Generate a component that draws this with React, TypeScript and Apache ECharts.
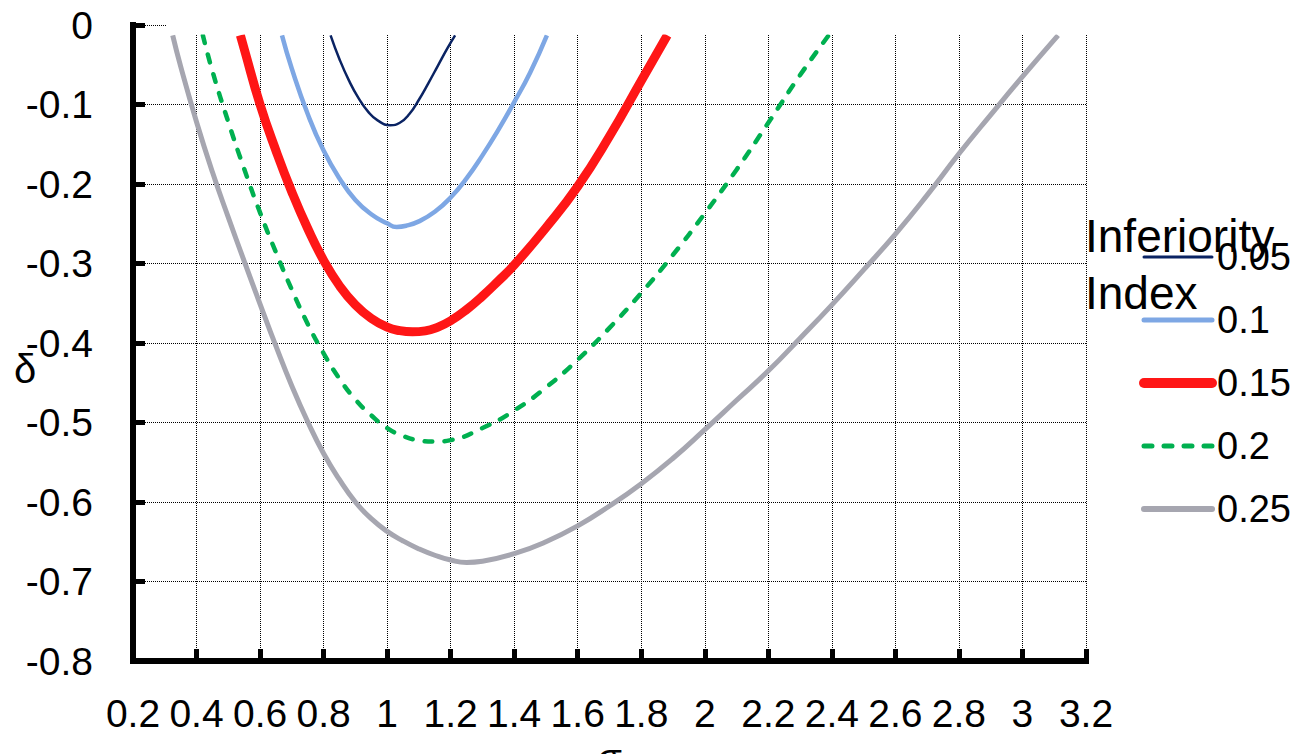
import React, { useEffect, useRef } from "react";
import * as echarts from "echarts";

const FONT = '"Liberation Sans", Arial, sans-serif';

const seriesNames = ["0.05", "0.1", "0.15", "0.2", "0.25"];
const seriesColors = ["#0A2363", "#7EA7E4", "#FF1616", "#00B050", "#A6A6B0"];

const sigma005 = [0.822, 0.85, 0.88, 0.91, 0.94, 0.97, 1.01, 1.04, 1.07, 1.1, 1.13, 1.16, 1.19, 1.214];
const delta005 = [-0.013, -0.043, -0.07, -0.092, -0.109, -0.12, -0.126, -0.123, -0.112, -0.094, -0.073, -0.051, -0.029, -0.013];

const sigma010 = [0.669, 0.7, 0.75, 0.8, 0.85, 0.9, 0.95, 1.0, 1.03, 1.06, 1.1, 1.15, 1.2, 1.25, 1.3, 1.35, 1.4, 1.45, 1.503];
const delta010 = [-0.013, -0.055, -0.112, -0.158, -0.193, -0.22, -0.238, -0.2495, -0.254, -0.2525, -0.247, -0.235, -0.217, -0.193, -0.164, -0.132, -0.097, -0.06, -0.013];

const sigma015 = [0.538, 0.55, 0.6, 0.65, 0.7, 0.75, 0.8, 0.85, 0.9, 0.95, 1.0, 1.04, 1.08, 1.12, 1.16, 1.2, 1.25, 1.3, 1.35, 1.4, 1.5, 1.6, 1.7, 1.8, 1.882];
const delta015 = [-0.013, -0.03, -0.1, -0.158, -0.21, -0.256, -0.296, -0.328, -0.352, -0.369, -0.38, -0.3845, -0.386, -0.3848, -0.38, -0.372, -0.358, -0.341, -0.322, -0.302, -0.255, -0.203, -0.14, -0.07, -0.013];

const sigma020 = [0.42, 0.45, 0.5, 0.55, 0.6, 0.65, 0.7, 0.75, 0.8, 0.85, 0.9, 0.95, 1.0, 1.05, 1.1, 1.15, 1.2, 1.3, 1.4, 1.5, 1.6, 1.7, 1.8, 1.9, 2.0, 2.1, 2.2, 2.3, 2.39];
const delta020 = [-0.013, -0.058, -0.122, -0.181, -0.236, -0.286, -0.333, -0.376, -0.413, -0.445, -0.471, -0.491, -0.507, -0.517, -0.5225, -0.524, -0.5222, -0.507, -0.485, -0.456, -0.421, -0.381, -0.337, -0.289, -0.237, -0.182, -0.123, -0.063, -0.013];

const sigma025 = [0.325, 0.35, 0.4, 0.45, 0.5, 0.55, 0.6, 0.65, 0.7, 0.75, 0.8, 0.85, 0.9, 0.95, 1.0, 1.05, 1.1, 1.15, 1.2, 1.25, 1.3, 1.4, 1.5, 1.6, 1.7, 1.8, 1.9, 2.0, 2.1, 2.2, 2.3, 2.4, 2.5, 2.6, 2.7, 2.8, 2.9, 3.0, 3.112];
const delta025 = [-0.013, -0.052, -0.122, -0.185, -0.242, -0.297, -0.351, -0.404, -0.454, -0.499, -0.539, -0.572, -0.6, -0.621, -0.637, -0.649, -0.659, -0.667, -0.673, -0.676, -0.6745, -0.665, -0.65, -0.63, -0.605, -0.577, -0.545, -0.509, -0.472, -0.435, -0.394, -0.352, -0.308, -0.263, -0.214, -0.162, -0.113, -0.065, -0.013];

const sigmaLists = [sigma005, sigma010, sigma015, sigma020, sigma025];
const deltaLists = [delta005, delta010, delta015, delta020, delta025];
const lineWidths = [2.5, 4.5, 9, 4.5, 5];
const legendWidths = [3, 5, 10, 5, 6];

export default function App() {
  const ref = useRef<HTMLDivElement>(null);

  useEffect(() => {
    if (!ref.current) return;
    const chart = echarts.init(ref.current, undefined, { renderer: "svg" });

    const series = seriesNames.map((name, i) => ({
      name,
      type: "line",
      smooth: 0.5,
      symbol: "none",
      data: sigmaLists[i].map((s, j) => [s, deltaLists[i][j]]),
      lineStyle: {
        color: seriesColors[i],
        width: lineWidths[i],
        type: i === 3 ? [8, 12] : "solid",
        cap: i === 3 ? "round" : "butt",
        join: "round",
      },
      itemStyle: { color: seriesColors[i] },
      z: 5,
    }));

    const axisCommon = {
      axisLine: { show: true, onZero: false, lineStyle: { color: "#000", width: 6, cap: "square" } },
      axisTick: { show: true, inside: true, length: 12, lineStyle: { color: "#000", width: 5 } },
      splitLine: { show: true, lineStyle: { type: "dotted", color: "#000", width: 1 } },
    };

    chart.setOption({
      animation: false,
      backgroundColor: "#fff",
      textStyle: { fontFamily: FONT },
      grid: { left: 133, top: 25, width: 953, height: 636, containLabel: false, outerBoundsMode: "none" },
      xAxis: {
        type: "value",
        min: 0.2,
        max: 3.2,
        interval: 0.2,
        name: "σ",
        nameLocation: "middle",
        nameGap: 69,
        nameTextStyle: { fontSize: 40, color: "#000", fontFamily: FONT },
        ...axisCommon,
        axisLabel: {
          fontSize: 39,
          color: "#000",
          margin: 33,
          fontFamily: FONT,
          formatter: (v: number) => String(Number(v.toFixed(1))),
        },
      },
      yAxis: {
        type: "value",
        min: -0.8,
        max: 0,
        interval: 0.1,
        ...axisCommon,
        axisLabel: {
          fontSize: 39,
          color: "#000",
          margin: 40,
          fontFamily: FONT,
          formatter: (v: number) => (Math.abs(v) < 1e-9 ? "0" : v.toFixed(1)),
        },
      },
      legend: {
        orient: "vertical",
        left: 1139,
        top: 237,
        padding: 0,
        itemWidth: 68,
        itemHeight: 14,
        itemGap: 23,
        itemStyle: { opacity: 0 },
        textStyle: { fontSize: 38, color: "#000", lineHeight: 40, fontFamily: FONT },
        data: seriesNames.map((n, i) => ({
          name: n,
          lineStyle: { width: legendWidths[i], cap: "round" },
        })),
      },
      graphic: [
        {
          type: "rect",
          shape: { x: 166, y: 21, width: 926, height: 13.5 },
          style: { fill: "#fff" },
          z: 100,
          silent: true,
        },
        {
          type: "text",
          x: 25,
          y: 369,
          z: 110,
          style: { text: "δ", fontSize: 40, fontFamily: FONT, fill: "#000", align: "center", verticalAlign: "middle" },
        },
        {
          type: "text",
          x: 1085,
          y: 236,
          z: 110,
          style: { text: "Inferiority", fontSize: 46, fontFamily: FONT, fill: "#000", align: "left", verticalAlign: "middle" },
        },
        {
          type: "text",
          x: 1085,
          y: 293,
          z: 110,
          style: { text: "Index", fontSize: 46, fontFamily: FONT, fill: "#000", align: "left", verticalAlign: "middle" },
        },
      ],
      series,
    });

    return () => chart.dispose();
  }, []);

  return (
    <div
      ref={ref}
      style={{ position: "fixed", left: 0, top: 0, width: 1301, height: 754 }}
    />
  );
}
